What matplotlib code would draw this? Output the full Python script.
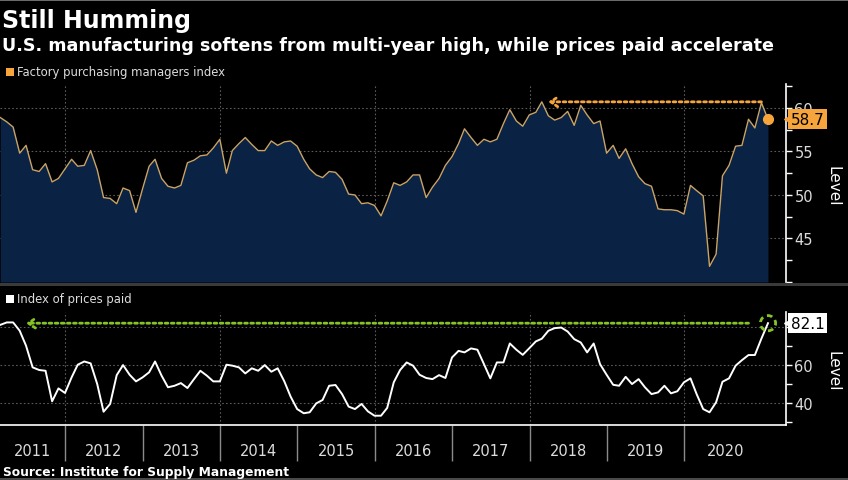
import pandas as pd
import matplotlib
matplotlib.use('Agg')
import matplotlib.pyplot as plt
from matplotlib.patches import Rectangle
from matplotlib.transforms import blended_transform_factory

# --- data: monthly, Feb 2011 .. Jan 2021 (month-end dates) ---
dates = pd.date_range('2011-02-28', periods=120, freq='ME')

pmi = [58.9, 58.4, 57.8, 54.8, 55.7, 52.9, 52.7, 53.6, 51.5, 51.9, 53.0, 54.1,
       53.3, 53.4, 55.1, 52.9, 49.7, 49.6, 49.0, 50.8, 50.5, 48.0, 50.7, 53.3,
       54.1, 51.9, 51.0, 50.8, 51.1, 53.7, 54.0, 54.5, 54.6, 55.4, 56.4, 52.5,
       55.1, 55.9, 56.6, 55.8, 55.1, 55.1, 56.2, 55.7, 56.1, 56.2, 55.6, 54.1,
       53.0, 52.3, 52.0, 52.7, 52.6, 51.8, 50.1, 50.0, 49.0, 49.1, 48.8, 47.6,
       49.3, 51.4, 51.1, 51.5, 52.3, 52.3, 49.7, 50.9, 51.9, 53.4, 54.4, 55.9,
       57.6, 56.6, 55.7, 56.4, 56.1, 56.4, 58.2, 59.8, 58.5, 57.9, 59.2, 59.5,
       60.7, 59.1, 58.6, 58.9, 59.6, 58.0, 60.3, 59.2, 58.2, 58.5, 54.8, 55.7,
       54.2, 55.3, 53.6, 52.1, 51.3, 51.0, 48.4, 48.3, 48.3, 48.2, 47.8, 51.1,
       50.5, 49.9, 41.8, 43.2, 52.2, 53.4, 55.6, 55.7, 58.7, 57.7, 60.6, 58.7]

prices = [81.2, 82.5, 82.5, 78.1, 70.2, 58.8, 57.4, 57.0, 40.9, 47.7, 45.3, 53.5,
          60.2, 61.9, 60.9, 50.0, 35.4, 39.5, 54.7, 60.0, 54.9, 51.4, 53.5, 56.2,
          61.9, 54.4, 48.3, 49.1, 50.5, 47.9, 52.6, 57.0, 54.4, 51.4, 51.4, 60.2,
          59.7, 58.8, 55.6, 58.3, 57.0, 60.0, 56.5, 58.3, 51.5, 43.4, 36.8, 34.6,
          35.1, 39.8, 41.6, 49.1, 49.5, 44.7, 38.1, 36.8, 39.5, 35.6, 33.3, 33.3,
          37.4, 50.9, 57.4, 61.4, 59.7, 54.9, 53.2, 52.6, 54.7, 53.2, 64.0, 67.5,
          66.7, 68.8, 68.1, 60.5, 53.0, 61.4, 61.4, 71.4, 68.1, 65.4, 68.9, 72.5,
          73.9, 78.1, 79.5, 79.8, 77.7, 73.7, 71.9, 66.7, 71.4, 60.5, 54.9, 49.6,
          49.1, 53.8, 50.0, 52.6, 48.3, 44.7, 45.6, 49.1, 45.1, 46.2, 50.9, 53.0,
          44.7, 36.8, 35.1, 40.4, 51.2, 53.0, 59.7, 62.6, 65.3, 65.3, 74.0, 82.1]

year_labels = ['2011', '2012', '2013', '2014', '2015', '2016', '2017', '2018', '2019', '2020']

# colours
FILL = '#0a2244'
PMI_LINE = '#c9a466'
ORANGE = '#f5a53c'
GREEN = '#86c425'
GRID = '#5a5a5a'
TXT = '#dcdcdc'
DOTS = (0, (1, 1.2))

x_lo, x_hi = pd.Timestamp('2011-02-27'), pd.Timestamp('2021-04-26')

fig = plt.figure(figsize=(8.48, 4.81), dpi=100, facecolor='black')
W, H = 848, 481


def box(y_top, y_bot, right=786):
    return [0, 1 - y_bot / H, right / W, (y_bot - y_top) / H]


ax1 = fig.add_axes(box(85, 283))
ax2 = fig.add_axes(box(313, 426))

for ax in (ax1, ax2):
    ax.set_facecolor('black')
    ax.set_xlim(x_lo, x_hi)
    for s in ('top', 'left', 'bottom'):
        ax.spines[s].set_visible(False)
    ax.spines['right'].set_color('white')
    ax.spines['right'].set_linewidth(1.2)
    ax.yaxis.tick_right()
    ax.tick_params(axis='y', which='both', direction='out', length=4, width=1,
                   color='white', labelcolor=TXT, labelsize=10.5, pad=2)
    ax.grid(axis='y', which='major', color=GRID, ls=(0, (1.5, 2)), lw=0.8)
    for yr in (2012, 2014, 2016, 2018, 2020):
        ax.axvline(pd.Timestamp(f'{yr}-01-01'), color=GRID, ls=(0, (1.5, 2)), lw=0.8, zorder=1)

# --- top panel: PMI ---
ax1.set_ylim(40, 62.75)
ax1.fill_between(dates, pmi, 40, color=FILL, lw=0, zorder=2)
ax1.plot(dates, pmi, color=PMI_LINE, lw=1.0, zorder=3)
ax1.set_yticks([40, 45, 50, 55, 60])
ax1.set_yticklabels(['', '45', '50', '55', '60'])
ax1.set_yticks([42.5, 47.5, 52.5, 57.5, 62.5], minor=True)
ax1.set_xticks([])
ax1.plot(dates[-1], pmi[-1], 'o', color=ORANGE, ms=7, zorder=5)
ax1.annotate('', xy=(dates[85], pmi[84]), xytext=(dates[118], pmi[84]),
             arrowprops=dict(arrowstyle='->,head_length=0.5,head_width=0.35', color=ORANGE,
                             lw=2, ls=DOTS, shrinkA=0, shrinkB=0), zorder=6)

tr1 = blended_transform_factory(ax1.transAxes, ax1.transData)
ax1.text(1 + 5 / 786, pmi[-1], f'{pmi[-1]:.1f}', transform=tr1, ha='left', va='center',
         fontsize=11, color='black', zorder=10,
         bbox=dict(boxstyle='square,pad=0.18', fc=ORANGE, ec='none'))
ax1.plot([1 + 2 / 786], [pmi[-1]], marker='<', ms=6, color=ORANGE, transform=tr1,
         clip_on=False, zorder=9)

# --- bottom panel: prices paid ---
ax2.set_ylim(28.4, 88)
ax2.plot(dates, prices, color='white', lw=1.4, zorder=3)
ax2.set_yticks([40, 60, 80])
ax2.set_yticklabels(['40', '60', ''])
ax2.set_yticks([30, 50, 70], minor=True)
ax2.spines['bottom'].set_visible(True)
ax2.spines['bottom'].set_color('white')
ax2.spines['bottom'].set_linewidth(1.2)
ax2.annotate('', xy=(dates[4], prices[-1]), xytext=(dates[116], prices[-1]),
             arrowprops=dict(arrowstyle='->,head_length=0.5,head_width=0.35', color=GREEN,
                             lw=2, ls=DOTS, shrinkA=0, shrinkB=0), zorder=6)
ax2.scatter([dates[-1]], [prices[-1]], s=120, facecolors='none', edgecolors=GREEN,
            linewidths=2, linestyles=(0, (2, 1.5)), zorder=6)

tr2 = blended_transform_factory(ax2.transAxes, ax2.transData)
ax2.text(1 + 5 / 786, prices[-1], f'{prices[-1]:.1f}', transform=tr2, ha='left', va='center',
         fontsize=11, color='black', zorder=10,
         bbox=dict(boxstyle='square,pad=0.18', fc='white', ec='none'))
ax2.plot([1 + 2 / 786], [prices[-1]], marker='<', ms=6, color='white', transform=tr2,
         clip_on=False, zorder=9)

# x axis: year labels centred in each visible year, separators at Jan 1
seps = [pd.Timestamp(f'{y}-01-01') for y in range(2012, 2021)]
edges = [x_lo] + seps + [dates[-1]]
mids = [a + (b - a) / 2 for a, b in zip(edges[:-1], edges[1:])]
ax2.set_xticks(mids)
ax2.set_xticklabels(year_labels)
ax2.set_xticks(seps, minor=True)
ax2.tick_params(axis='x', which='major', length=0, pad=13, labelsize=10.5, labelcolor=TXT)
ax2.tick_params(axis='x', which='minor', length=26, width=1, color='#8a8a8a', direction='out')

# --- titles, legends, source ---
fig.text(2 / W, 1 - 28 / H, 'Still Humming', fontsize=17, fontweight='bold',
         color='white', va='baseline')
fig.text(2 / W, 1 - 51 / H,
         'U.S. manufacturing softens from multi-year high, while prices paid accelerate',
         fontsize=12.6, fontweight='bold', color='white', va='baseline')

fig.add_artist(Rectangle((6 / W, 1 - 77 / H), 8 / W, 8 / H, transform=fig.transFigure,
                         color=ORANGE, lw=0))
fig.text(17 / W, 1 - 73 / H, 'Factory purchasing managers index', fontsize=8.4,
         color=TXT, va='center')
fig.add_artist(Rectangle((6 / W, 1 - 304 / H), 8 / W, 8 / H, transform=fig.transFigure,
                         color='white', lw=0))
fig.text(17 / W, 1 - 300 / H, 'Index of prices paid', fontsize=8.4, color=TXT, va='center')

fig.text(833 / W, 1 - 186 / H, 'Level', rotation=270, fontsize=11, color='white',
         ha='center', va='center')
fig.text(833 / W, 1 - 371 / H, 'Level', rotation=270, fontsize=11, color='white',
         ha='center', va='center')

fig.text(3 / W, 1 - 476 / H, 'Source: Institute for Supply Management', fontsize=8.8,
         fontweight='bold', color='white', va='baseline')

# panel separators
fig.add_artist(Rectangle((0, 1 - 287 / H), 1, 3 / H, transform=fig.transFigure,
                         color='#3a3a3a', lw=0))
fig.add_artist(Rectangle((0, 1 - 2 / H), 1, 2 / H, transform=fig.transFigure,
                         color='#6a6a6a', lw=0))
fig.add_artist(Rectangle((0, 0), 1, 2 / H, transform=fig.transFigure,
                         color='#4a4a4a', lw=0))

fig.savefig('out.png', dpi=100, facecolor='black')
